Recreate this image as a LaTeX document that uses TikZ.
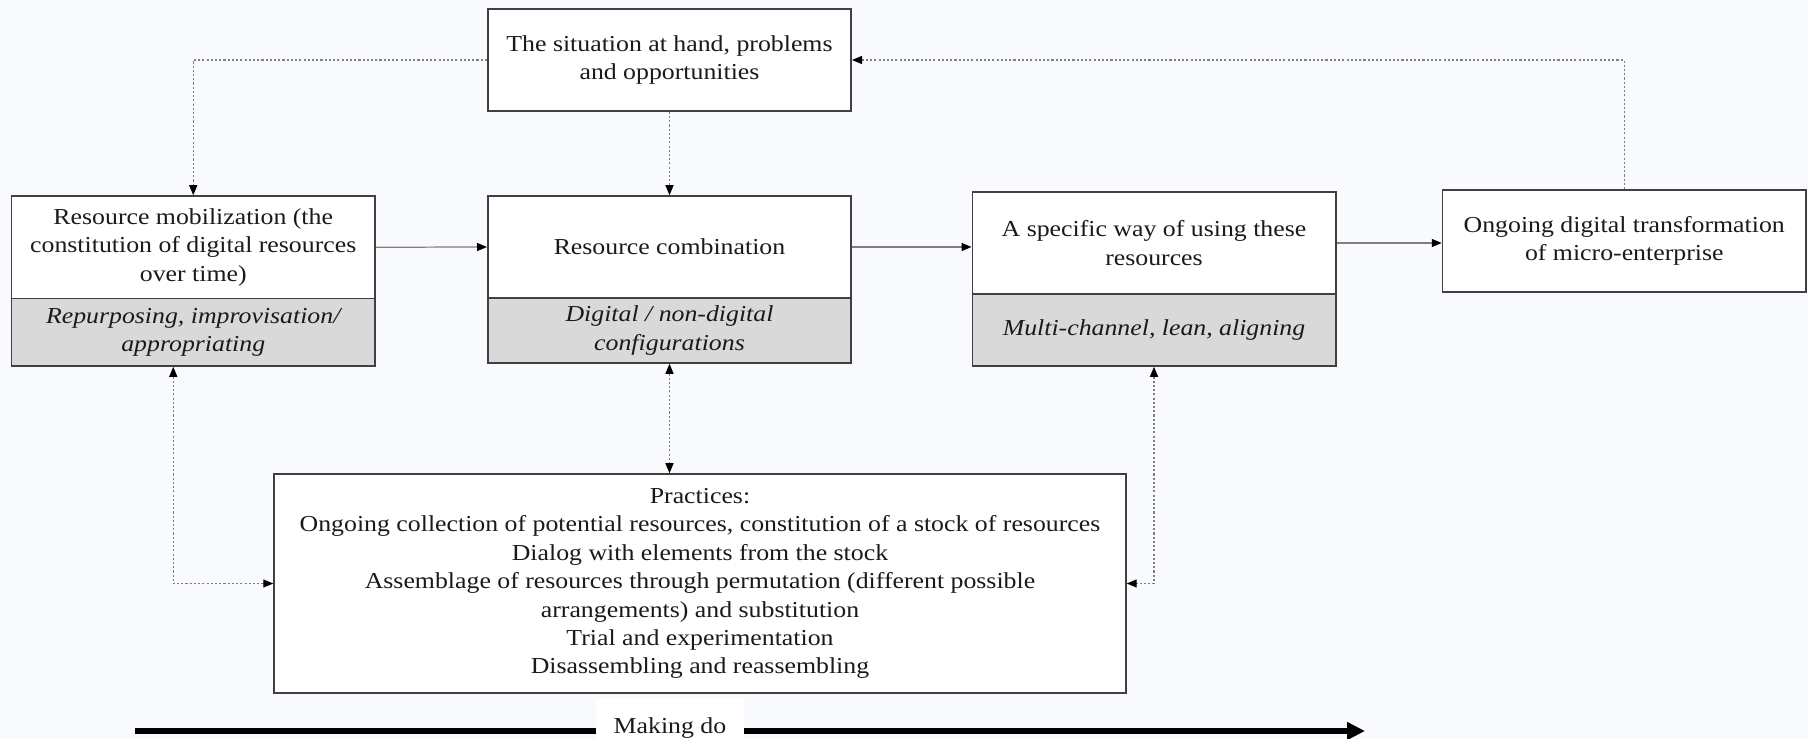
\documentclass[tikz,border=0pt]{standalone}
\usepackage{fontspec}
\setmainfont{Liberation Serif}[FakeStretch=1.13]
\usetikzlibrary{arrows.meta}
\definecolor{pagebg}{HTML}{F8FAFE}
\definecolor{subgray}{HTML}{D9D9D9}
\definecolor{boxline}{HTML}{404040}
\definecolor{linegray}{HTML}{7F7F7F}
\definecolor{txt}{HTML}{1A1A1A}

\begin{document}
\begin{tikzpicture}[x=0.02cm, y=-0.02cm,
  >={Triangle[length=0.2cm, width=0.16cm, color=black]},
  box/.style={draw=boxline, line width=0.9pt, fill=white, align=center, inner sep=0pt,
    minimum width=7.27cm, minimum height=2.04cm, text=txt, font=\fontsize{13}{16.2}\selectfont},
  sub/.style={box, fill=subgray, font=\fontsize{13}{16.2}\selectfont\itshape},
  link/.style={draw=linegray, line width=0.7pt, ->},
  dots/.style={draw=linegray, line width=0.7pt, dash pattern=on 1.2pt off 1.2pt, ->},
  both/.style={dots, <->}]
\fill[pagebg] (0,0) rectangle (1808,739);
\useasboundingbox (0,0) rectangle (1808,739);

\node[box] (sit) at (669.5,60) {The situation at hand, problems\\and opportunities};
\node[box, minimum height=2.05cm] (mob) at (193.25,247.25) {Resource mobilization (the\\constitution of digital resources\\over time)};
\node[sub, minimum height=1.35cm] (mobsub) at (193.25,332.25) {Repurposing, improvisation/\\appropriating};
\node[box] (comb) at (669.5,247) {Resource combination};
\node[sub, minimum height=1.3cm] (combsub) at (669.5,330.5) {Digital / non-digital\\configurations};
\node[box] (use) at (1154,243) {A specific way of using these\\resources};
\node[sub, minimum height=1.44cm] (usesub) at (1154,330) {Multi-channel, lean, aligning};
\node[box] (trans) at (1624.25,241) {Ongoing digital transformation\\of micro-enterprise};
\node[box, minimum width=17.04cm, minimum height=4.38cm] (prac) at (700,583.5) {Practices:\\Ongoing collection of potential resources, constitution of a stock of resources\\Dialog with elements from the stock\\Assemblage of resources through permutation (different possible\\arrangements) and substitution\\Trial and experimentation\\Disassembling and reassembling};

\draw[link] (mob.east) -- (comb.west);
\draw[link] (comb.east) -- (comb.east -| use.west);
\draw[link] (use.east) -- (use.east -| trans.west);

\draw[dots] (sit.west) -| (mob.north);
\draw[dots] (sit.south) -- (comb.north);
\draw[dots] (trans.north) |- (sit.east);
\draw[both] ([xshift=-0.4cm]mobsub.south) |- (prac.west);
\draw[both] (combsub.south) -- (combsub.south |- prac.north);
\draw[both] (usesub.south) |- (prac.east);

\coordinate (mkstart) at (135,731);
\coordinate (mkend) at (1365,731);
\draw[line width=3.4pt, -{Triangle[length=0.36cm, width=0.34cm]}] (mkstart) -- (mkend);
\node[fill=white, inner sep=0pt, minimum width=2.98cm, minimum height=1.2cm, text=txt, font=\fontsize{13}{16.2}\selectfont] (mkdo) at (670,728) {Making do};
\end{tikzpicture}
\end{document}
